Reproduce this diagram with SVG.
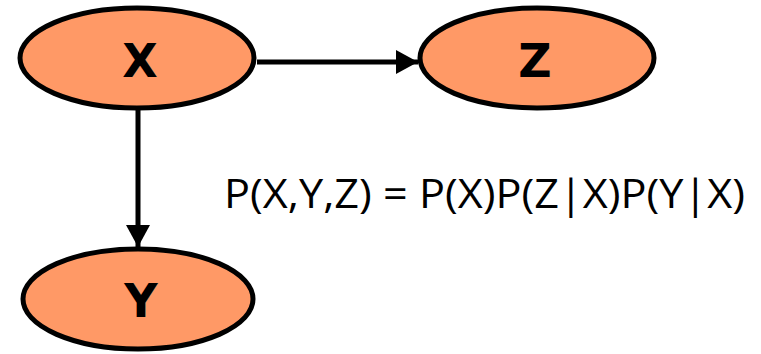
<svg xmlns="http://www.w3.org/2000/svg" width="761" height="354" viewBox="0 0 761 354">
<style>
.node{fill:#FF9966;stroke:#000;stroke-width:5}
.lbl{font-family:"DejaVu Sans","Liberation Sans",sans-serif;font-size:46px;font-weight:bold;text-anchor:middle;fill:#000}
.edge{stroke:#000;stroke-width:5;fill:none}
.eq{font-family:"Open Sans","Liberation Sans",sans-serif;font-size:41px;fill:#000}
</style>
<defs>
<marker id="ah" markerUnits="userSpaceOnUse" markerWidth="24" markerHeight="24" refX="22" refY="12" orient="auto">
<path d="M0,0 L22,12 L0,24 Z" fill="#000"/>
</marker>
</defs>
<rect width="761" height="354" fill="#fff"/>
<g id="connectors">
<line class="edge" x1="257" y1="62" x2="418" y2="62" marker-end="url(#ah)"/>
<line class="edge" x1="138" y1="109" x2="138" y2="247" marker-end="url(#ah)"/>
</g>
<g id="node-X">
<ellipse class="node" cx="137" cy="58" rx="117" ry="50"/>
<text class="lbl" x="140" y="77">X</text>
</g>
<g id="node-Z">
<ellipse class="node" cx="537" cy="58" rx="117" ry="50"/>
<text class="lbl" x="535" y="77">Z</text>
</g>
<g id="node-Y">
<ellipse class="node" cx="138" cy="299" rx="115" ry="50"/>
<text class="lbl" x="141" y="317">Y</text>
</g>
<text class="eq" x="224" y="208" textLength="521" lengthAdjust="spacingAndGlyphs">P(X,Y,Z) = P(X)P(Z|X)P(Y|X)</text>
</svg>
